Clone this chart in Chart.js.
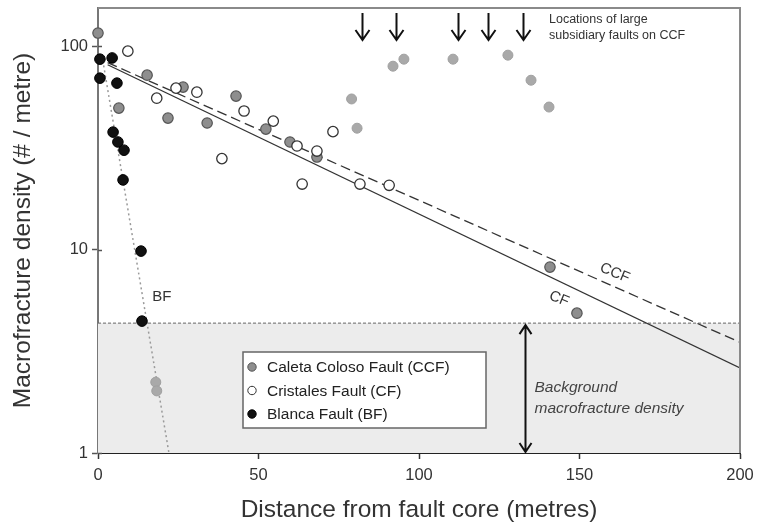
<!DOCTYPE html>
<html>
<head>
<meta charset="utf-8">
<script src="https://cdn.jsdelivr.net/npm/chart.js@4/dist/chart.umd.min.js"></script>
<style>
  html, body { margin: 0; padding: 0; background: #fff; }
  #wrap { width: 757px; height: 526px; }
</style>
</head>
<body>
<div id="wrap"><canvas id="c" width="757" height="526"></canvas></div>
<script>
// ---- Data ----
// Caleta Coloso Fault (CCF) - points used in fit
const ccfX = [0, 6.5, 15.3, 21.8, 26.5, 34, 43, 52.3, 59.8, 68.2, 140.8, 149.2];
const ccfY = [116, 49.6, 72, 44.3, 62.9, 41.9, 56.8, 39.1, 33.8, 28.5, 8.2, 4.87];
// CCF - points shown lighter (near large subsidiary faults / below background)
const ccfOutX = [18, 18.3, 79, 80.7, 91.9, 95.3, 110.6, 127.7, 134.9, 140.5];
const ccfOutY = [2.23, 2.02, 55, 39.5, 79.7, 86.3, 86.3, 90.3, 68, 50.2];
// Cristales Fault (CF)
const cfX = [9.3, 18.3, 24.3, 30.8, 38.6, 45.5, 54.6, 62, 63.6, 68.2, 73.2, 81.6, 90.7];
const cfY = [94.5, 55.5, 62.2, 59.4, 28, 48, 42.8, 32.3, 21, 30.5, 38, 21, 20.7];
// Blanca Fault (BF)
const bfX = [0.6, 4.4, 0.6, 5.9, 4.7, 6.2, 8.1, 7.8, 13.4, 13.7];
const bfY = [86.3, 87.5, 69.6, 65.8, 37.8, 33.8, 30.8, 22, 9.83, 4.45];
// Regression lines (end points)
const ccfFitX = [3, 200];
const ccfFitY = [83, 3.5];
const cfFitX = [3, 200];
const cfFitY = [81, 2.62];
const bfFitX = [1.5, 22.1];
const bfFitY = [85, 1];
// Background macrofracture density level
const backgroundLevel = 4.35;
const backgroundX = [0, 200];
// Locations of large subsidiary faults on CCF
const subsidiaryFaultX = [82.1, 92.9, 112.1, 121.5, 132.4];
// Axis ticks
const xTicks = [0, 50, 100, 150, 200];
const yTicks = [1, 10, 100];
const seriesLabels = ['Caleta Coloso Fault (CCF)', 'Cristales Fault (CF)', 'Blanca Fault (BF)'];

const pts = (xs, ys) => xs.map((x, i) => ({ x: x, y: ys[i] }));
const FONT = "'Liberation Sans', Arial, sans-serif";

const annotations = {
  id: 'annotations',
  afterDatasetsDraw(chart) {
    const ctx = chart.ctx;
    const xs = chart.scales.x, ys = chart.scales.y;
    const a = chart.chartArea;
    ctx.save();
    // frame top / right
    ctx.strokeStyle = '#8a8a8a';
    ctx.lineWidth = 2;
    ctx.beginPath();
    ctx.moveTo(a.left, a.top);
    ctx.lineTo(a.right, a.top);
    ctx.lineTo(a.right, a.bottom);
    ctx.stroke();

    // y tick marks crossing into the plot
    ctx.strokeStyle = '#555';
    ctx.lineWidth = 1.5;
    yTicks.forEach(v => {
      const py = Math.round(ys.getPixelForValue(v)) + 0.5;
      ctx.beginPath();
      ctx.moveTo(a.left, py); ctx.lineTo(a.left + 4, py);
      ctx.stroke();
    });

    // subsidiary fault arrows
    ctx.strokeStyle = '#111';
    ctx.lineWidth = 2;
    subsidiaryFaultX.forEach(v => {
      const px = Math.round(xs.getPixelForValue(v)) + 0.5;
      const top = a.top + 5, tip = a.top + 32;
      ctx.beginPath();
      ctx.moveTo(px, top); ctx.lineTo(px, tip);
      ctx.moveTo(px - 7, tip - 10); ctx.lineTo(px, tip); ctx.lineTo(px + 7, tip - 10);
      ctx.stroke();
    });
    ctx.fillStyle = '#333';
    ctx.font = '12.5px ' + FONT;
    ctx.textBaseline = 'middle';
    ctx.textAlign = 'left';
    const tx = xs.getPixelForValue(140.5);
    ctx.fillText('Locations of large', tx, a.top + 12);
    ctx.fillText('subsidiary faults on CCF', tx, a.top + 28);

    // background double arrow
    const bx = Math.round(xs.getPixelForValue(133)) + 0.5;
    const by1 = ys.getPixelForValue(backgroundLevel) + 2, by2 = ys.getPixelForValue(1) - 1;
    ctx.strokeStyle = '#111';
    ctx.lineWidth = 2;
    ctx.beginPath();
    ctx.moveTo(bx, by1); ctx.lineTo(bx, by2);
    ctx.moveTo(bx - 6, by1 + 9); ctx.lineTo(bx, by1); ctx.lineTo(bx + 6, by1 + 9);
    ctx.moveTo(bx - 6, by2 - 9); ctx.lineTo(bx, by2); ctx.lineTo(bx + 6, by2 - 9);
    ctx.stroke();
    ctx.fillStyle = '#444';
    ctx.font = 'italic 15.5px ' + FONT;
    ctx.fillText('Background', bx + 9, by1 + 63);
    ctx.fillText('macrofracture density', bx + 9, by1 + 84);

    // fit line labels
    ctx.fillStyle = '#333';
    ctx.font = '15px ' + FONT;
    ctx.textAlign = 'center';
    const drawRot = (text, x, y, deg) => {
      ctx.save();
      ctx.translate(xs.getPixelForValue(x), ys.getPixelForValue(y));
      ctx.rotate(deg * Math.PI / 180);
      ctx.fillText(text, 0, 0);
      ctx.restore();
    };
    drawRot('CCF', 161, 7.67, 22);
    drawRot('CF', 143.6, 5.72, 22);
    drawRot('BF', 19.9, 5.84, 0);

    // legend box
    const lx = a.left + 145, ly = a.top + 344, lw = 243, lh = 76;
    ctx.fillStyle = '#fff';
    ctx.fillRect(lx, ly, lw, lh);
    ctx.strokeStyle = '#666';
    ctx.lineWidth = 1.5;
    ctx.strokeRect(lx, ly, lw, lh);
    const ds = chart.data.datasets;
    const legendDs = [ds[0], ds[2], ds[3]];
    ctx.font = '15.5px ' + FONT;
    ctx.textAlign = 'left';
    legendDs.forEach((d, i) => {
      const cy = ly + 15 + i * 23.5;
      ctx.beginPath();
      ctx.arc(lx + 9, cy, 4.2, 0, Math.PI * 2);
      ctx.fillStyle = d.backgroundColor;
      ctx.fill();
      ctx.strokeStyle = d.borderColor;
      ctx.lineWidth = 1;
      ctx.stroke();
      ctx.fillStyle = '#222';
      ctx.fillText(seriesLabels[i], lx + 24, cy + 1);
    });
    ctx.restore();
  }
};

new Chart(document.getElementById('c'), {
  type: 'scatter',
  data: {
    datasets: [
      { label: seriesLabels[0], data: pts(ccfX, ccfY), backgroundColor: '#8e8e8e', borderColor: '#555',
        borderWidth: 1.2, pointRadius: 5.2, order: 3, clip: false },
      { label: 'CCF (lighter)', data: pts(ccfOutX, ccfOutY), backgroundColor: '#a9a9a9', borderColor: '#a0a0a0',
        borderWidth: 1, pointRadius: 5, order: 4, clip: false },
      { label: seriesLabels[1], data: pts(cfX, cfY), backgroundColor: '#fff', borderColor: '#333',
        borderWidth: 1.3, pointRadius: 5.2, order: 2, clip: false },
      { label: seriesLabels[2], data: pts(bfX, bfY), backgroundColor: '#111', borderColor: '#000',
        borderWidth: 1, pointRadius: 5.3, order: 1, clip: false },
      { label: 'CCF fit', type: 'line', data: pts(ccfFitX, ccfFitY), borderColor: '#333', borderWidth: 1.3,
        borderDash: [10, 5], pointRadius: 0, fill: false, order: 6 },
      { label: 'CF fit', type: 'line', data: pts(cfFitX, cfFitY), borderColor: '#333', borderWidth: 1.3,
        pointRadius: 0, fill: false, order: 6 },
      { label: 'BF fit', type: 'line', data: pts(bfFitX, bfFitY), borderColor: '#9a9a9a', borderWidth: 1.5,
        borderDash: [2, 3], pointRadius: 0, fill: false, order: 6 },
      { label: 'Background', type: 'line', data: backgroundX.map(x => ({ x: x, y: backgroundLevel })),
        borderColor: '#666', borderWidth: 1, borderDash: [3, 2], backgroundColor: '#ececec',
        fill: 'start', pointRadius: 0, order: 10 }
    ]
  },
  options: {
    responsive: false,
    animation: false,
    layout: { padding: { top: 8, right: 17, left: 0, bottom: 0 } },
    plugins: { legend: { display: false }, tooltip: { enabled: false } },
    scales: {
      x: {
        type: 'linear', min: 0, max: 200,
        afterFit: s => { s.height = 73; s.paddingLeft = 0; s.paddingRight = 0; },
        afterBuildTicks: s => { s.ticks = xTicks.map(v => ({ value: v })); },
        grid: { drawOnChartArea: false, drawTicks: true, tickLength: 6, color: '#333', tickWidth: 1.5 },
        border: { color: '#222', width: 2 },
        ticks: { color: '#333', font: { family: FONT, size: 16.5 }, padding: 7 },
        title: { display: true, text: 'Distance from fault core (metres)', color: '#333',
          font: { family: FONT, size: 24.5 }, padding: { top: 0, bottom: 1 } }
      },
      y: {
        type: 'logarithmic', min: 1, max: 154,
        afterFit: s => { s.width = 98; s.paddingTop = 0; s.paddingBottom = 0; },
        afterBuildTicks: s => { s.ticks = yTicks.map(v => ({ value: v })); },
        grid: { drawOnChartArea: false, drawTicks: true, tickLength: 6, color: '#555', tickWidth: 1.5 },
        border: { color: '#777', width: 2 },
        ticks: { color: '#333', font: { family: FONT, size: 16.5 }, padding: 4, callback: v => String(v) },
        title: { display: true, text: 'Macrofracture density (# / metre)', color: '#333',
          font: { family: FONT, size: 24.5 }, padding: { top: 9, bottom: 0 } }
      }
    }
  },
  plugins: [annotations]
});
</script>
</body>
</html>
